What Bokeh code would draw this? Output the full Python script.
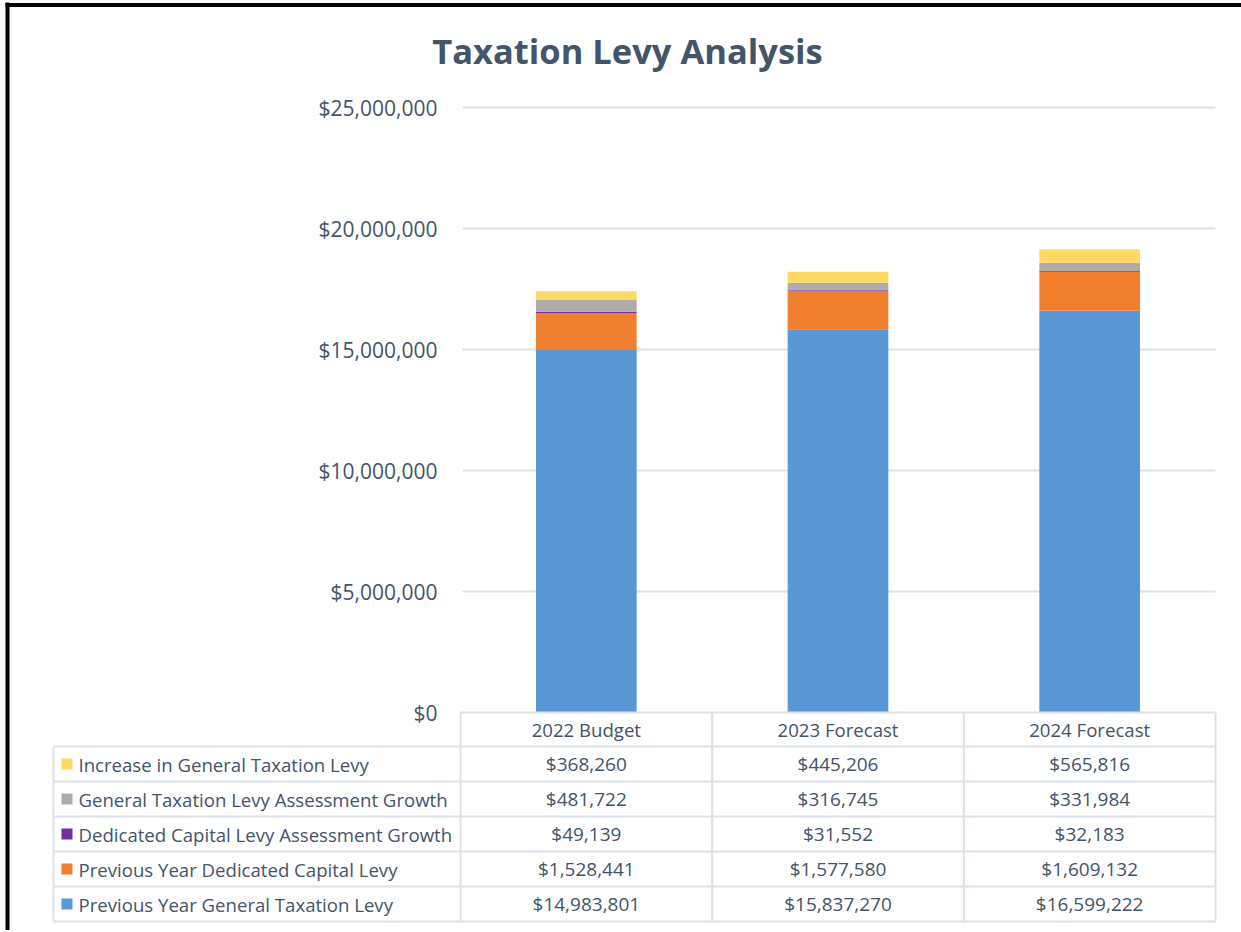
from bokeh.plotting import figure
from bokeh.models import Range1d, ColumnDataSource
from bokeh.core.properties import value
from bokeh.embed import file_html
from bokeh.resources import INLINE

# ---------------- data ----------------
categories = ["2022 Budget", "2023 Forecast", "2024 Forecast"]
prev_general = [14983801, 15837270, 16599222]
prev_dedicated = [1528441, 1577580, 1609132]
dedicated_growth = [49139, 31552, 32183]
general_growth = [481722, 316745, 331984]
increase_general = [368260, 445206, 565816]

series_keys = ["prev_general", "prev_dedicated", "dedicated_growth", "general_growth", "increase_general"]
series_names = ["Previous Year General Taxation Levy",
                "Previous Year Dedicated Capital Levy",
                "Dedicated Capital Levy Assessment Growth",
                "General Taxation Levy Assessment Growth",
                "Increase in General Taxation Levy"]
series_colors = ["#5A98D5", "#F07F2F", "#7030A0", "#AFABAB", "#FFD966"]

y_ticks = [0, 5000000, 10000000, 15000000, 20000000, 25000000]
y_tick_labels = ["$0", "$5,000,000", "$10,000,000", "$15,000,000", "$20,000,000", "$25,000,000"]

title_text = "Taxation Levy Analysis"

# ---------------- layout (page pixels) ----------------
W, H = 1241, 930
OFF = 0
PLOT_L, PLOT_R = 460, 1215
ZERO_Y, TOP_Y = 712, 107
YMAX = 25000000
NCAT = len(categories)


def X(px):
    return (px - PLOT_L) * NCAT / (PLOT_R - PLOT_L)


def Y(py):
    return (ZERO_Y - py) * YMAX / (ZERO_Y - TOP_Y)


TEXT = "#44546A"
GRID = "#DCE1E8"
FONT = value("Open Sans")

p = figure(width=W, height=H, x_range=Range1d(X(OFF), X(OFF + W)),
           y_range=Range1d(Y(OFF + H), Y(OFF)),
           output_backend="svg", toolbar_location=None, min_border=0,
           x_axis_type=None, y_axis_type=None, outline_line_color=None,
           background_fill_color="white", border_fill_color="white")

# gridlines
gy = y_ticks[1:]
p.segment(x0=[X(462)] * len(gy), y0=gy, x1=[X(PLOT_R)] * len(gy), y1=gy,
          line_color=GRID, line_width=2)

# y tick labels
p.text(x=[X(437)] * len(y_ticks), y=y_ticks, text=y_tick_labels,
       text_align="right", text_baseline="middle", text_font=FONT,
       text_font_size="21px", text_color=TEXT)

# title
p.text(x=[X(627)], y=[Y(50)], text=[title_text], text_align="center",
       text_baseline="middle", text_font=FONT, text_font_size="34.5px",
       text_font_style="bold", text_color=TEXT)

# stacked bars
data = dict(x=[i + 0.5 for i in range(NCAT)], prev_general=prev_general,
            prev_dedicated=prev_dedicated, dedicated_growth=dedicated_growth,
            general_growth=general_growth, increase_general=increase_general)
src = ColumnDataSource(data)
p.vbar_stack(series_keys, x="x", width=0.4, color=series_colors, source=src,
             line_color=None)

# ---------------- data table ----------------
ROW_TOP = 746
ROW_H = 35
NROW = len(series_names)
TBL_L = 53
col_edges = [PLOT_L + i * (PLOT_R - PLOT_L) / NCAT for i in range(NCAT + 1)]

# horizontal lines
hx0, hy, hx1 = [], [], []
hx0.append(X(PLOT_L)); hx1.append(X(PLOT_R)); hy.append(Y(ZERO_Y))
for r in range(NROW + 1):
    hx0.append(X(TBL_L)); hx1.append(X(PLOT_R)); hy.append(Y(ROW_TOP + r * ROW_H))
p.segment(x0=hx0, y0=hy, x1=hx1, y1=hy, line_color=GRID, line_width=2)

# vertical lines
vx, vy0, vy1 = [], [], []
for e in col_edges:
    vx.append(X(e)); vy0.append(Y(ZERO_Y)); vy1.append(Y(ROW_TOP + NROW * ROW_H))
vx.append(X(TBL_L)); vy0.append(Y(ROW_TOP)); vy1.append(Y(ROW_TOP + NROW * ROW_H))
p.segment(x0=vx, y0=vy0, x1=vx, y1=vy1, line_color=GRID, line_width=2)

# header row
p.text(x=[i + 0.5 for i in range(NCAT)], y=[Y((ZERO_Y + ROW_TOP) / 2)] * NCAT,
       text=categories, text_align="center", text_baseline="middle",
       text_font=FONT, text_font_size="18.6px", text_color=TEXT)

# rows (top to bottom: reversed stack order)
series_vals = [prev_general, prev_dedicated, dedicated_growth, general_growth, increase_general]
row_order = list(range(NROW))[::-1]
kx, ky, kc, lx, ly, lt = [], [], [], [], [], []
vxs, vys, vts = [], [], []
for r, si in enumerate(row_order):
    cy = Y(ROW_TOP + r * ROW_H + ROW_H / 2)
    kx.append(X(66.5)); ky.append(cy); kc.append(series_colors[si])
    lx.append(X(78)); ly.append(cy); lt.append(series_names[si])
    for c in range(NCAT):
        vxs.append(c + 0.5); vys.append(cy)
        vts.append("${:,}".format(series_vals[si][c]))

p.rect(x=kx, y=ky, width=11, height=11, width_units="screen", height_units="screen",
       fill_color=kc, line_color=None)
p.text(x=lx, y=ly, text=lt, text_align="left", text_baseline="middle",
       text_font=FONT, text_font_size="18.6px", text_color=TEXT)
p.text(x=vxs, y=vys, text=vts, text_align="center", text_baseline="middle",
       text_font=FONT, text_font_size="19px", text_color=TEXT)

# black frame (left and top)
p.segment(x0=[X(7), X(5)], y0=[Y(2), Y(4.5)], x1=[X(7), X(1241)], y1=[Y(932), Y(4.5)],
          line_color="black", line_width=4)

open("out.html", "w").write(file_html(p, INLINE))
